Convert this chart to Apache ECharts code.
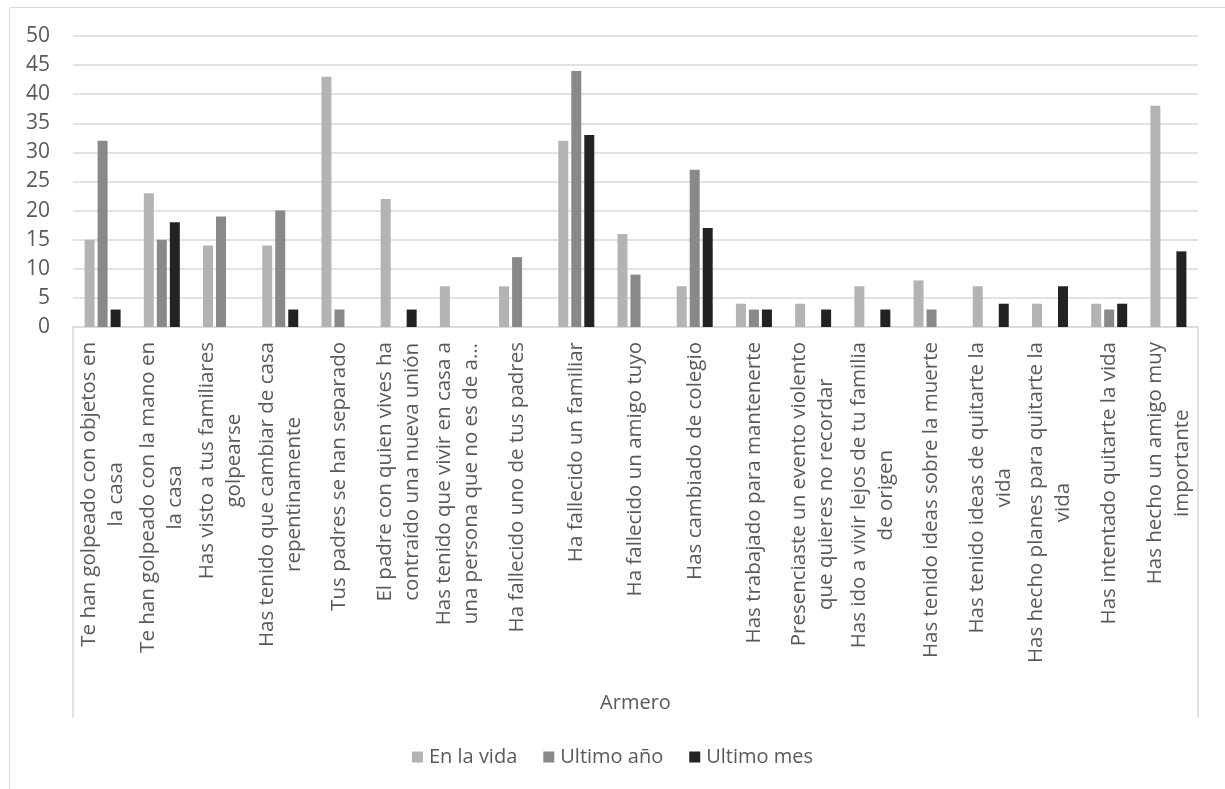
<!DOCTYPE html>
<html>
<head>
<meta charset="utf-8">
<script src="https://cdn.jsdelivr.net/npm/echarts@6/dist/echarts.min.js"></script>
<style>
  html, body { margin: 0; padding: 0; background: #ffffff; }
  #chart { width: 1225px; height: 789px; }
</style>
</head>
<body>
<div id="chart"></div>
<script>
// ---- data ----
const categories = [
  "Te han golpeado con objetos en\nla casa",
  "Te han golpeado con la mano en\nla casa",
  "Has visto a tus familiares\ngolpearse",
  "Has tenido que cambiar de casa\nrepentinamente",
  "Tus padres se han separado",
  "El padre con quien vives ha\ncontraído una nueva unión",
  "Has tenido que vivir en casa a\nuna persona que no es de a…",
  "Ha fallecido uno de tus padres",
  "Ha fallecido un familiar",
  "Ha fallecido un amigo tuyo",
  "Has cambiado de colegio",
  "Has trabajado para mantenerte",
  "Presenciaste un evento violento\nque quieres no recordar",
  "Has ido a vivir lejos de tu familia\nde origen",
  "Has tenido ideas sobre la muerte",
  "Has tenido ideas de quitarte la\nvida",
  "Has hecho planes para quitarte la\nvida",
  "Has intentado quitarte la vida",
  "Has hecho un amigo muy\nimportante"
];
const enLaVida  = [15, 23, 14, 14, 43, 22, 7, 7, 32, 16, 7, 4, 4, 7, 8, 7, 4, 4, 38];
const ultimoAno = [32, 15, 19, 20, 3, 0, 0, 12, 44, 9, 27, 3, 0, 0, 3, 0, 0, 3, 0];
const ultimoMes = [3, 18, 0, 3, 0, 3, 0, 0, 33, 0, 17, 3, 3, 3, 0, 4, 7, 4, 13];
const seriesNames = ["En la vida", "Ultimo año", "Ultimo mes"];
const groupLabel = "Armero";

// ---- layout constants ----
const FONT = "'Open Sans', 'Noto Sans', sans-serif";
const TXT = '#595959';
const G_LEFT = 73, G_RIGHT_X = 1198, G_TOP = 36, G_BOTTOM_Y = 327;

const chart = echarts.init(document.getElementById('chart'), null, { renderer: 'canvas' });

const option = {
  backgroundColor: '#ffffff',
  animation: false,
  textStyle: { fontFamily: FONT },
  grid: {
    left: G_LEFT,
    right: 1225 - G_RIGHT_X,
    top: G_TOP,
    bottom: 789 - G_BOTTOM_Y,
    containLabel: false
  },
  legend: {
    data: seriesNames,
    left: 'center',
    top: 742,
    itemWidth: 11,
    itemHeight: 11,
    itemGap: 26,
    icon: 'rect',
    textStyle: { color: TXT, fontSize: 20, fontFamily: FONT, padding: [0, 0, 0, 1] }
  },
  xAxis: {
    type: 'category',
    data: categories,
    axisLine: { show: true, lineStyle: { color: '#d9d9d9', width: 1.5 } },
    axisTick: { show: false },
    splitLine: { show: false },
    axisLabel: {
      interval: 0,
      rotate: 90,
      margin: 15,
      color: TXT,
      fontFamily: FONT,
      fontSize: 20.5,
      formatter: function (v) {
        return v.split('\n').map(function (l) { return '{c|' + l + '}'; }).join('\n');
      },
      rich: {
        c: { align: 'center', fontSize: 20.5, lineHeight: 27, color: TXT, fontFamily: FONT }
      }
    }
  },
  yAxis: {
    type: 'value',
    min: 0,
    max: 50,
    interval: 5,
    axisLine: { show: false },
    axisTick: { show: false },
    axisLabel: { color: TXT, fontSize: 21, fontFamily: FONT, margin: 23 },
    splitLine: { show: true, lineStyle: { color: '#d9d9d9', width: 1.5 } }
  },
  series: [
    { name: seriesNames[0], type: 'bar', data: enLaVida, barWidth: 10, barGap: '30%',
      itemStyle: { color: '#b3b3b3' } },
    { name: seriesNames[1], type: 'bar', data: ultimoAno, barWidth: 10, barGap: '30%',
      itemStyle: { color: '#898989' } },
    { name: seriesNames[2], type: 'bar', data: ultimoMes, barWidth: 10, barGap: '30%',
      itemStyle: { color: '#222222' } }
  ],
  graphic: [
    { type: 'rect', silent: true, shape: { x: 9.5, y: 7.5, width: 1400, height: 1000 },
      style: { fill: 'none', stroke: '#d9d9d9', lineWidth: 1 }, z: -10 },
    { type: 'line', silent: true, shape: { x1: G_LEFT, y1: G_BOTTOM_Y, x2: G_LEFT, y2: 718 },
      style: { stroke: '#d9d9d9', lineWidth: 1.5 } },
    { type: 'line', silent: true, shape: { x1: G_RIGHT_X, y1: G_BOTTOM_Y, x2: G_RIGHT_X, y2: 718 },
      style: { stroke: '#d9d9d9', lineWidth: 1.5 } },
    { type: 'text', silent: true, x: (G_LEFT + G_RIGHT_X) / 2, y: 703,
      style: { text: groupLabel, fill: TXT, fontSize: 20, fontFamily: FONT,
               align: 'center', verticalAlign: 'middle' } }
  ]
};
chart.setOption(option);
</script>
</body>
</html>
